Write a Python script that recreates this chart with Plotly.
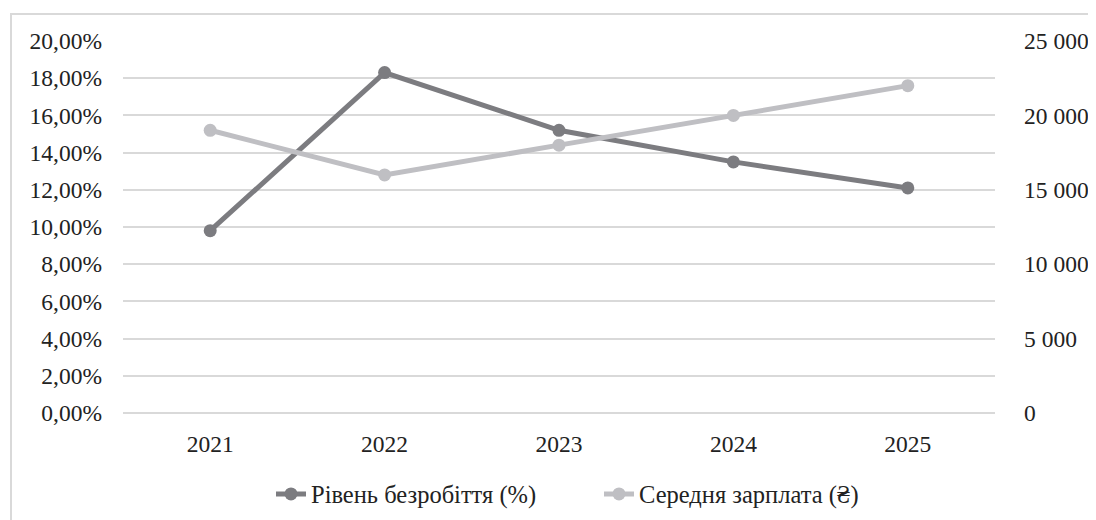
import plotly.graph_objects as go

years = ["2021", "2022", "2023", "2024", "2025"]
unemployment = [0.098, 0.183, 0.152, 0.135, 0.121]
salary = [19000, 16000, 18000, 20000, 22000]
name_unemp = "Рівень безробіття (%)"
name_salary = "Середня зарплата (₴)"

FONT = "Liberation Serif"
FS = 23.5
FSL = 24.5
OFF = 8  # default body margin of the page
W, H = 1096 - OFF, 520 - OFF
L, T = 123 - OFF, 41 - OFF
R = W - (995 - OFF)
B = H - (413 - OFF)
ph = H - T - B
pw = W - L - R

fig = go.Figure()
fig.add_trace(go.Scatter(
    x=years, y=unemployment, name=name_unemp, mode="lines+markers",
    line=dict(color="#7c7c80", width=5), marker=dict(size=13, color="#7c7c80"),
    yaxis="y"))
fig.add_trace(go.Scatter(
    x=years, y=salary, name=name_salary, mode="lines+markers",
    line=dict(color="#bfbfc3", width=5), marker=dict(size=13, color="#bfbfc3"),
    yaxis="y2"))

fig.update_layout(
    width=W, height=H,
    margin=dict(l=L, r=R, t=T, b=B, autoexpand=False),
    paper_bgcolor="white", plot_bgcolor="white",
    separators=", ",
    font=dict(family=FONT, size=FS, color="#222222"),
    showlegend=True,
    legend=dict(orientation="h", x=(271 - OFF - L) / pw, xanchor="left",
                y=(T + ph - (494 - OFF)) / ph, yanchor="middle",
                font=dict(family=FONT, size=FSL, color="#222222"),
                entrywidth=283, entrywidthmode="pixels",
                bgcolor="rgba(0,0,0,0)"),
    xaxis=dict(type="category", range=[-0.5, 4.5], showgrid=False, showline=False,
               ticks="", ticklabelstandoff=14, tickfont=dict(size=FS)),
    yaxis=dict(range=[0, 0.2], dtick=0.02, tickformat=".2%", showgrid=True,
               gridcolor="#d9d9d9", gridwidth=1.5, zeroline=True,
               zerolinecolor="#d9d9d9", zerolinewidth=1.5, showline=False,
               ticks="", ticklabelstandoff=20, tickfont=dict(size=FS)),
    yaxis2=dict(range=[0, 25000], dtick=5000, tickformat=",d", overlaying="y",
                side="right", showgrid=False, zeroline=False, showline=False,
                ticks="", ticklabelstandoff=28, tickfont=dict(size=FS)),
)

fig.add_shape(type="rect", xref="paper", yref="paper",
              x0=(11 - OFF - L) / pw, x1=(W + 20 - L) / pw,
              y0=(T + ph - (14 - OFF)) / ph, y1=(T + ph - (H + 20)) / ph,
              line=dict(color="#d9d9d9", width=2), fillcolor="rgba(0,0,0,0)",
              layer="below")

fig.write_html("out.html")
